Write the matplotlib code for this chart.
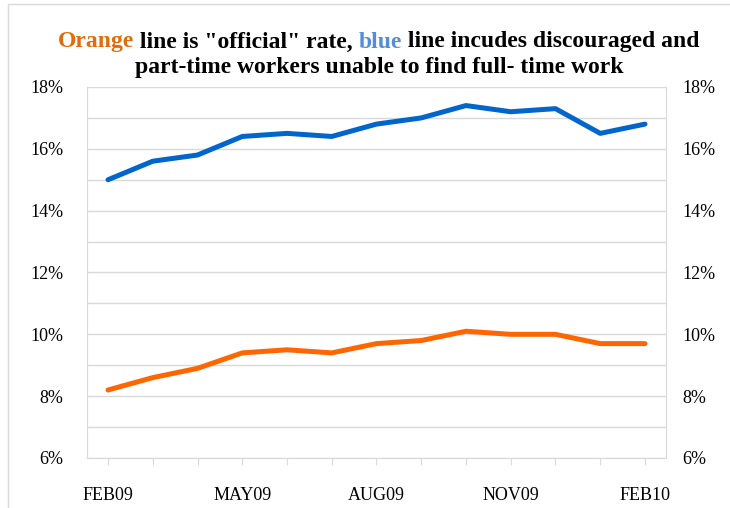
import matplotlib.pyplot as plt
from matplotlib.offsetbox import TextArea, HPacker, AnchoredOffsetbox
from matplotlib.patches import Rectangle

# Monthly unemployment rates, Feb 2009 - Feb 2010
months = ['FEB09', 'MAR09', 'APR09', 'MAY09', 'JUN09', 'JUL09', 'AUG09',
          'SEP09', 'OCT09', 'NOV09', 'DEC09', 'JAN10', 'FEB10']
official = [8.2, 8.6, 8.9, 9.4, 9.5, 9.4, 9.7, 9.8, 10.1, 10.0, 10.0, 9.7, 9.7]
broad = [15.0, 15.6, 15.8, 16.4, 16.5, 16.4, 16.8, 17.0, 17.4, 17.2, 17.3, 16.5, 16.8]
y_ticks = [6, 8, 10, 12, 14, 16, 18]
grid_lines = [6, 7, 8, 9, 10, 11, 12, 13, 14, 15, 16, 17, 18]

plt.rcParams['font.family'] = ['Liberation Serif', 'DejaVu Serif']

GRID = '#D9D9D9'
BLUE = '#0066CC'
ORANGE = '#FF6600'

fig = plt.figure(figsize=(7.3, 5.08), dpi=100)
ax = fig.add_axes([87 / 730, 1 - 458 / 508, (666 - 87) / 730, (458 - 87) / 508])

x = list(range(len(months)))
ax.plot(x, official, color=ORANGE, linewidth=3.6, solid_capstyle='round')
ax.plot(x, broad, color=BLUE, linewidth=3.6, solid_capstyle='round')

ax.set_xlim(-0.47, len(months) - 1 + 0.47)
ax.set_ylim(6, 18)

# horizontal gridlines every 1%
for g in grid_lines:
    ax.axhline(g, color=GRID, linewidth=1, zorder=0)

ax.set_yticks(y_ticks)
ax.set_yticklabels([f'{v}%' for v in y_ticks])
ax.set_xticks(x)
ax.set_xticklabels([m if i % 3 == 0 else '' for i, m in enumerate(months)])
ax.tick_params(axis='y', length=0, labelsize=13, pad=17)
ax.tick_params(axis='x', length=5, color=GRID, labelsize=13, pad=16)

for side in ['left', 'right', 'bottom']:
    ax.spines[side].set_color(GRID)
ax.spines['top'].set_visible(False)

# right-hand copy of the percentage axis
ax2 = ax.twinx()
ax2.set_ylim(6, 18)
ax2.set_yticks(y_ticks)
ax2.set_yticklabels([f'{v}%' for v in y_ticks])
ax2.tick_params(axis='y', length=0, labelsize=13, pad=12)
for side in ['left', 'right', 'bottom', 'top']:
    ax2.spines[side].set_visible(False)

# two-colour title
tfont = dict(fontsize=17, fontweight='bold')
parts = [('Orange', '#E36C09'), (' line is "official" rate, ', 'black'),
         ('blue', '#558ED5'), (' line incudes discouraged and', 'black')]
boxes = [TextArea(t, textprops=dict(color=c, **tfont)) for t, c in parts]
line1 = HPacker(children=boxes, pad=0, sep=0, align='baseline')
anchor = AnchoredOffsetbox(loc='center', child=line1, frameon=False,
                           bbox_to_anchor=(379 / 730, 1 - 42 / 508),
                           bbox_transform=fig.transFigure, borderpad=0, pad=0)
fig.add_artist(anchor)
fig.text(379 / 730, 1 - 68 / 508, 'part-time workers unable to find full- time work',
         ha='center', va='center', color='black', **tfont)

# light outer frame of the chart
fig.add_artist(Rectangle((8 / 730, -0.1), 1.2, 1 - 4 / 508 + 0.1,
                         transform=fig.transFigure, fill=False,
                         edgecolor=GRID, linewidth=1))

fig.savefig('out.png', dpi=100)
